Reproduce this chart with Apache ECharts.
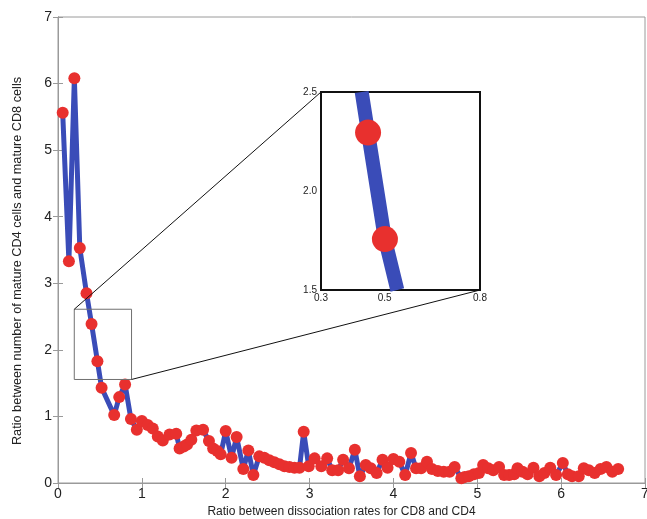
<!DOCTYPE html>
<html>
<head>
<meta charset="utf-8">
<script src="https://cdn.jsdelivr.net/npm/echarts@6/dist/echarts.min.js"></script>
<style>
  html, body { margin: 0; padding: 0; background: #fff; }
  #chart { width: 647px; height: 519px; }
</style>
</head>
<body>
<div id="chart"></div>
<script>
// ratio of dissociation rates (CD8/CD4)
const ratioX = [
  0.056, 0.13, 0.195, 0.26, 0.34, 0.40, 0.47, 0.52, 0.67, 0.73, 0.80, 0.87, 0.94, 1.00,
  1.07, 1.13, 1.19, 1.25, 1.33, 1.41, 1.45, 1.50, 1.54, 1.59, 1.65, 1.73, 1.80, 1.85,
  1.90, 1.94, 2.00, 2.07, 2.13, 2.21, 2.27, 2.33, 2.40, 2.46, 2.52, 2.58, 2.64, 2.70,
  2.76, 2.82, 2.88, 2.93, 2.99, 3.06, 3.14, 3.21, 3.27, 3.34, 3.40, 3.47, 3.54, 3.60,
  3.67, 3.73, 3.80, 3.87, 3.93, 4.00, 4.07, 4.14, 4.21, 4.27, 4.33, 4.40, 4.46, 4.53,
  4.60, 4.67, 4.73, 4.81, 4.85, 4.90, 4.96, 5.02, 5.07, 5.13, 5.19, 5.26, 5.32, 5.38,
  5.44, 5.48, 5.54, 5.60, 5.67, 5.74, 5.80, 5.87, 5.94, 6.02, 6.08, 6.13, 6.21, 6.27,
  6.33, 6.40, 6.47, 6.54, 6.61, 6.68
]
// ratio of mature CD4 / mature CD8 cells
const ratioY = [
  5.56, 3.33, 6.08, 3.53, 2.85, 2.39, 1.83, 1.43, 1.02, 1.29, 1.48, 0.96, 0.80, 0.93,
  0.87, 0.82, 0.70, 0.64, 0.73, 0.74, 0.52, 0.55, 0.58, 0.65, 0.79, 0.80, 0.63, 0.52,
  0.48, 0.43, 0.78, 0.38, 0.69, 0.21, 0.49, 0.12, 0.40, 0.38, 0.34, 0.31, 0.28, 0.25,
  0.24, 0.23, 0.23, 0.77, 0.25, 0.37, 0.25, 0.37, 0.19, 0.19, 0.35, 0.22, 0.50, 0.10,
  0.27, 0.22, 0.15, 0.35, 0.23, 0.36, 0.32, 0.12, 0.45, 0.22, 0.22, 0.32, 0.21, 0.18,
  0.17, 0.17, 0.24, 0.07, 0.09, 0.10, 0.13, 0.15, 0.27, 0.22, 0.19, 0.24, 0.12, 0.12,
  0.13, 0.22, 0.17, 0.13, 0.23, 0.10, 0.15, 0.23, 0.12, 0.30, 0.13, 0.10, 0.10, 0.22,
  0.19, 0.15, 0.21, 0.24, 0.17, 0.21
]

// zoomed inset (as drawn in the figure)
const insetX = [0.428, 0.448, 0.501, 0.54]
const insetY = [2.5, 2.295, 1.757, 1.5]
const insetDotX = [0.448, 0.501]
const insetDotY = [2.295, 1.757]

// region of the main plot that the inset magnifies
const zoomBoxX = [0.194, 0.877]
const zoomBoxY = [1.555, 2.61]

const insetXLabels = ['0.3', '0.5', '0.8']

const blue = '#3a4cb8'
const red = '#e8302e'
const font = 'Liberation Sans, Arial, sans-serif'

const chart = echarts.init(document.getElementById('chart'))

const zip = (xs, ys) => xs.map((x, i) => [x, ys[i]])

chart.setOption({
  animation: false,
  backgroundColor: '#fff',
  grid: [
    {
      left: 58, right: 2, top: 17, bottom: 36, show: true, borderColor: '#9a9a9a', borderWidth: 1,
      containLabel: false, outerBoundsMode: 'none'
    },
    {
      left: 321, top: 92, width: 159, height: 198, show: true, borderColor: '#111', borderWidth: 2,
      backgroundColor: '#fff', containLabel: false, outerBoundsMode: 'none', z: 5
    }
  ],
  xAxis: [
    {
      gridIndex: 0, type: 'value', min: 0, max: 7, interval: 1,
      name: 'Ratio between dissociation rates for CD8 and CD4',
      nameLocation: 'middle', nameGap: 22,
      nameTextStyle: { fontFamily: font, fontSize: 12, color: '#222', padding: [0, 20, 0, 0] },
      axisLine: { lineStyle: { color: '#9a9a9a' } },
      axisTick: { inside: true, length: 5, lineStyle: { color: '#9a9a9a' } },
      axisLabel: { fontFamily: font, fontSize: 14, color: '#222', margin: 4, showMaxLabel: true },
      splitLine: { show: false }
    },
    {
      gridIndex: 0, type: 'value', min: 0, max: 7, interval: 1, position: 'top',
      axisLine: { lineStyle: { color: '#9a9a9a' } },
      axisTick: { inside: true, length: 5, lineStyle: { color: '#9a9a9a' } },
      axisLabel: { show: false }, splitLine: { show: false }
    },
    {
      gridIndex: 1, type: 'value', min: 0.3, max: 0.8, interval: 0.1,
      axisLine: { show: false }, axisTick: { show: false }, splitLine: { show: false },
      axisLabel: {
        fontFamily: font, fontSize: 10, color: '#222', margin: 3,
        showMinLabel: true, showMaxLabel: true,
        formatter: v => {
          const s = v.toFixed(1)
          return insetXLabels.includes(s) ? s : ''
        }
      }
    }
  ],
  yAxis: [
    {
      gridIndex: 0, type: 'value', min: 0, max: 7, interval: 1,
      name: 'Ratio between number of mature CD4 cells and mature CD8 cells',
      nameLocation: 'middle', nameGap: 34,
      nameTextStyle: { fontFamily: font, fontSize: 12.7, color: '#222', padding: [0, 22, 0, 0] },
      axisLine: { lineStyle: { color: '#9a9a9a' } },
      axisTick: { inside: true, length: 5, lineStyle: { color: '#9a9a9a' } },
      axisLabel: { fontFamily: font, fontSize: 14, color: '#222', margin: 6 },
      splitLine: { show: false }
    },
    {
      gridIndex: 0, type: 'value', min: 0, max: 7, interval: 1, position: 'right',
      axisLine: { lineStyle: { color: '#9a9a9a' } },
      axisTick: { inside: true, length: 5, lineStyle: { color: '#9a9a9a' } },
      axisLabel: { show: false }, splitLine: { show: false }
    },
    {
      gridIndex: 1, type: 'value', min: 1.5, max: 2.5, interval: 0.5,
      axisLine: { show: false }, axisTick: { show: false }, splitLine: { show: false },
      axisLabel: { fontFamily: font, fontSize: 10, color: '#222', margin: 4, formatter: v => v.toFixed(1) }
    }
  ],
  series: [
    {
      type: 'line', xAxisIndex: 0, yAxisIndex: 0,
      data: zip(ratioX, ratioY),
      symbol: 'circle', symbolSize: 12,
      lineStyle: { color: blue, width: 5 },
      itemStyle: { color: red, opacity: 1 },
      z: 3
    },
    {
      type: 'line', xAxisIndex: 2, yAxisIndex: 2,
      data: zip(insetX, insetY),
      showSymbol: false, clip: true,
      lineStyle: { color: blue, width: 14, cap: 'butt' },
      z: 6
    },
    {
      type: 'scatter', xAxisIndex: 2, yAxisIndex: 2,
      data: zip(insetDotX, insetDotY),
      symbolSize: 26,
      itemStyle: { color: red, opacity: 1 },
      z: 7
    }
  ]
})

// zoom box and the two connector lines to the inset
const p = (g, pt) => chart.convertToPixel({ gridIndex: g }, pt)
const boxTL = p(0, [zoomBoxX[0], zoomBoxY[1]])
const boxBR = p(0, [zoomBoxX[1], zoomBoxY[0]])
const insTL = p(1, [0.3, 2.5])
const insBR = p(1, [0.8, 1.5])

chart.setOption({
  graphic: [
    {
      type: 'rect', z: 10,
      shape: { x: boxTL[0], y: boxTL[1], width: boxBR[0] - boxTL[0], height: boxBR[1] - boxTL[1] },
      style: { fill: null, stroke: '#707070', lineWidth: 1 }
    },
    {
      type: 'line', z: 10,
      shape: { x1: boxTL[0], y1: boxTL[1], x2: insTL[0], y2: insTL[1] },
      style: { stroke: '#111', lineWidth: 1 }
    },
    {
      type: 'line', z: 10,
      shape: { x1: boxBR[0], y1: boxBR[1], x2: insBR[0], y2: insBR[1] },
      style: { stroke: '#111', lineWidth: 1 }
    }
  ]
})

window.addEventListener('resize', () => chart.resize())
</script>
</body>
</html>
